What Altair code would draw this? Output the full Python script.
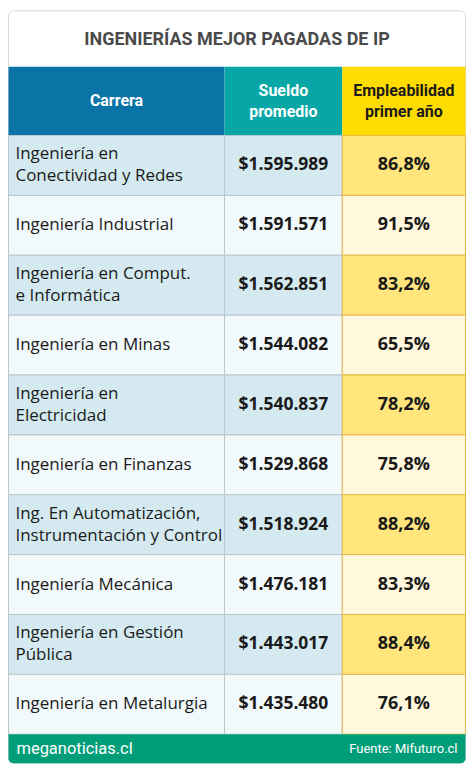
import altair as alt
import pandas as pd

# ---- data ----
title = "INGENIERÍAS MEJOR PAGADAS DE IP"
headers = ["Carrera", "Sueldo\npromedio", "Empleabilidad\nprimer año"]
carreras = [
    "Ingeniería en\nConectividad y Redes",
    "Ingeniería Industrial",
    "Ingeniería en Comput.\ne Informática",
    "Ingeniería en Minas",
    "Ingeniería en\nElectricidad",
    "Ingeniería en Finanzas",
    "Ing. En Automatización,\nInstrumentación y Control",
    "Ingeniería Mecánica",
    "Ingeniería en Gestión\nPública",
    "Ingeniería en Metalurgia",
]
sueldos = ["$1.595.989", "$1.591.571", "$1.562.851", "$1.544.082", "$1.540.837",
           "$1.529.868", "$1.518.924", "$1.476.181", "$1.443.017", "$1.435.480"]
empleabilidad = ["86,8%", "91,5%", "83,2%", "65,5%", "78,2%",
                 "75,8%", "88,2%", "83,3%", "88,4%", "76,1%"]
footer_left = "meganoticias.cl"
footer_right = "Fuente: Mifuturo.cl"

df = pd.DataFrame({
    "carrera": carreras,
    "sueldo": sueldos,
    "emp": empleabilidad,
    "idx": list(range(len(carreras))),
})
one = pd.DataFrame({"k": [0]})

# ---- layout ----
W, H = 459, 760
C0, C1, C2, C3 = 0.5, 217, 335, 458.5
TOP, TITLE_B, HEAD_B, BODY_B, FOOT_B = 2, 58, 127, 727, 756
LH = 21
BLH = 22
FONT = "Open Sans"
HFONT = "Roboto"

Y = alt.Y("carrera:N", sort=carreras, axis=None,
          scale=alt.Scale(domain=carreras, range=[HEAD_B, BODY_B],
                          paddingInner=0, paddingOuter=0))

base = alt.Chart(df)
deco = alt.Chart(one)

card = deco.mark_rect(fill="white", stroke="#d8d8d8", strokeWidth=1, cornerRadius=5).encode(
    x=alt.value(C0), x2=alt.value(C3), y=alt.value(TOP), y2=alt.value(FOOT_B))

title_t = deco.mark_text(font=HFONT, fontSize=18, fontWeight="bold", color="#4a4a4a").encode(
    x=alt.value((C0 + C3) / 2), y=alt.value((TOP + TITLE_B) / 2 + 1), text=alt.value(title))

def head(x1, x2, col):
    return deco.mark_rect(fill=col).encode(
        x=alt.value(x1), x2=alt.value(x2), y=alt.value(TITLE_B), y2=alt.value(HEAD_B))

hb = head(C0, C1, "#0b74a6")
ht = head(C1, C2, "#06a7a6")
hy = head(C2, C3, "#ffdc00")

def htext(xc, txt, col):
    nlines = txt.count("\n") + 1
    return deco.mark_text(font=HFONT, fontSize=16, fontWeight="bold", color=col,
                          lineBreak="\n", lineHeight=LH).encode(
        x=alt.value(xc), y=alt.value((TITLE_B + HEAD_B) / 2 - (nlines - 1) * LH / 2),
        text=alt.value(txt))

h1 = htext((C0 + C1) / 2, headers[0], "white")
h2 = htext((C1 + C2) / 2, headers[1], "white")
h3 = htext((C2 + C3) / 2, headers[2], "#1a1a1a")

par = "datum.idx % 2 == 0"
cell1 = base.mark_rect(stroke="#b9c6cb", strokeWidth=1).encode(
    x=alt.value(C0), x2=alt.value(C1), y=Y,
    fill=alt.condition(par, alt.value("#d4eaf0"), alt.value("#f2f9fb")))
cell2 = base.mark_rect(stroke="#b9c6cb", strokeWidth=1).encode(
    x=alt.value(C1), x2=alt.value(C2), y=Y,
    fill=alt.condition(par, alt.value("#d4eaf0"), alt.value("#f2f9fb")))
cell3 = base.mark_rect(stroke="#e9b54a", strokeWidth=1).encode(
    x=alt.value(C2), x2=alt.value(C3), y=Y,
    fill=alt.condition(par, alt.value("#ffe57c"), alt.value("#fff8dd")))

multi = "indexof(datum.carrera, '\\n') >= 0"
t1a = base.transform_filter(multi).mark_text(
    font=FONT, fontSize=17, align="left", color="#1a1a1a",
    lineBreak="\n", lineHeight=BLH, dy=-BLH / 2).encode(
    x=alt.value(C0 + 7), y=Y, text="carrera:N")
t1b = base.transform_filter("!(" + multi + ")").mark_text(
    font=FONT, fontSize=17, align="left", color="#1a1a1a").encode(
    x=alt.value(C0 + 7), y=Y, text="carrera:N")
t2 = base.mark_text(font=FONT, fontSize=17.5, fontWeight="bold", color="#1a1a1a").encode(
    x=alt.value((C1 + C2) / 2), y=Y, text="sueldo:N")
t3 = base.mark_text(font=FONT, fontSize=18, fontWeight="bold", color="#1a1a1a").encode(
    x=alt.value((C2 + C3) / 2), y=Y, text="emp:N")

foot = deco.mark_rect(fill="#009e78", cornerRadiusBottomLeft=5, cornerRadiusBottomRight=5).encode(
    x=alt.value(C0), x2=alt.value(C3), y=alt.value(BODY_B), y2=alt.value(FOOT_B))
fl = deco.mark_text(font=HFONT, fontSize=16.5, align="left", color="white").encode(
    x=alt.value(C0 + 8), y=alt.value((BODY_B + FOOT_B) / 2), text=alt.value(footer_left))
fr = deco.mark_text(font=HFONT, fontSize=13, align="right", color="white").encode(
    x=alt.value(C3 - 8), y=alt.value((BODY_B + FOOT_B) / 2), text=alt.value(footer_right))

chart = alt.layer(card, title_t, hb, ht, hy, h1, h2, h3,
                  cell1, cell2, cell3, t1a, t1b, t2, t3, foot, fl, fr).properties(
    width=W, height=H, padding=0, autosize=alt.AutoSizeParams(type="none")
).configure_view(stroke=None)

chart.save("out.html", embed_options={"renderer": "svg", "actions": False})
